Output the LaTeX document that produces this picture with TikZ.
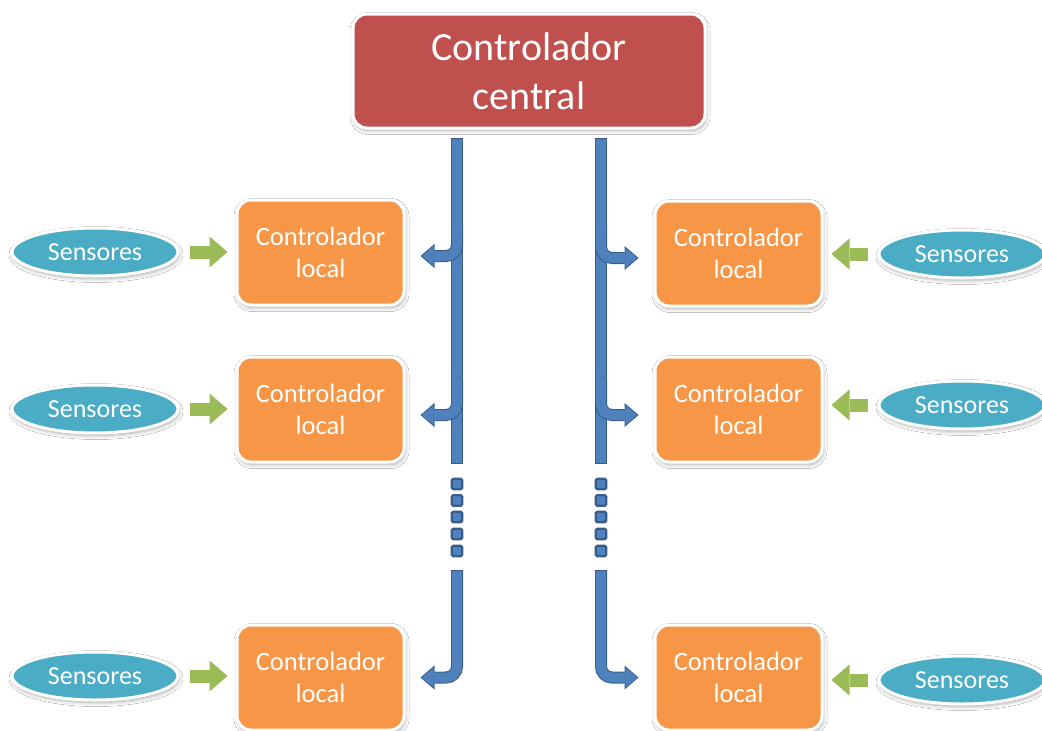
\documentclass[tikz,border=0pt]{standalone}
\usepackage{fontspec}
\setmainfont{Carlito}
\usetikzlibrary{arrows.meta,shapes.geometric,shadows.blur}

\definecolor{ctrlred}{HTML}{C0504D}
\definecolor{ctrlorange}{HTML}{F79646}
\definecolor{sensorblue}{HTML}{4BACC6}
\definecolor{busblue}{HTML}{4F81BD}
\definecolor{busedge}{HTML}{385D8A}
\definecolor{feedgreen}{HTML}{9BBB59}

\tikzset{
  softshadow/.style={blur shadow={shadow xshift=1pt, shadow yshift=-2.5pt,
      shadow blur radius=4pt, shadow opacity=35}},
  panel/.style={rounded corners=14pt, draw=white, line width=3pt, text=white,
      align=center, inner sep=0pt, softshadow},
  centralbox/.style={panel, fill=ctrlred, minimum width=352pt, minimum height=114pt,
      font=\fontsize{40}{49}\selectfont},
  localbox/.style={panel, fill=ctrlorange, minimum width=167pt, minimum height=105pt,
      font=\fontsize{26.5}{32}\selectfont},
  sensor/.style={ellipse, fill=sensorblue, draw=white, line width=3pt, text=white,
      minimum width=166pt, minimum height=48pt, inner sep=0pt, softshadow,
      font=\fontsize{26}{30}\selectfont},
  dotbox/.style={draw=busedge, fill=busblue, line width=2.2pt, rounded corners=1.5pt,
      minimum size=10.5pt, inner sep=0pt},
  % blue bus lines: a darker outline pass, then the fill pass
  busouter/.style={draw=busedge, line width=12pt},
  businner/.style={draw=busblue, line width=10pt},
  capped/.style={shorten <=-1pt},
  tipouter/.style={-{Triangle[length=14pt, width=24pt, line width=0pt]}},
  tipinner/.style={shorten >=1.5pt, -{Triangle[length=11.5pt, width=19.7pt, line width=0pt]}},
  % green sensor feeds: white outline pass, then the green pass
  feedouter/.style={draw=white, line width=17pt, shorten <=8pt, shorten >=5pt,
      -{Triangle[length=23pt, width=40pt, line width=0pt]}},
  feedinner/.style={draw=feedgreen, line width=13pt, shorten <=10pt, shorten >=8pt,
      -{Triangle[length=18pt, width=31pt, line width=0pt]}},
  elbow/.style={rounded corners=11pt},
}

\begin{document}
\begin{tikzpicture}[x=1pt, y=-1pt]
\useasboundingbox[fill=white] (0,0) rectangle (1042,731);

% controllers
\node[centralbox] (central) at (529,71) {Controlador\\central};

\node[localbox] (lcL1) at (320.5,252.5) {Controlador\\local};
\node[localbox] (lcL2) at (320.5,409.5) {Controlador\\local};
\node[localbox] (lcL3) at (320.5,677.5) {Controlador\\local};
\node[localbox] (lcR1) at (738.5,253.5) {Controlador\\local};
\node[localbox] (lcR2) at (738.5,409.5) {Controlador\\local};
\node[localbox] (lcR3) at (738.5,677.5) {Controlador\\local};

% sensors
\node[sensor] (sL1) at (95,252) {Sensores};
\node[sensor] (sL2) at (95,409) {Sensores};
\node[sensor] (sL3) at (95,676) {Sensores};
\node[sensor] (sR1) at (962,254) {Sensores};
\node[sensor] (sR2) at (962,405) {Sensores};
\node[sensor] (sR3) at (962,680) {Sensores};

% sensor inputs
\foreach \s/\c in {sL1/lcL1, sL2/lcL2, sL3/lcL3} {
  \draw[feedouter] (\s.east) -- (\s.east -| \c.west);
  \draw[feedinner] (\s.east) -- (\s.east -| \c.west);
}
\foreach \s/\c in {sR1/lcR1, sR2/lcR2, sR3/lcR3} {
  \draw[feedouter] (\s.west) -- (\s.west -| \c.east);
  \draw[feedinner] (\s.west) -- (\s.west -| \c.east);
}

% bus coordinates
\coordinate (busLtop) at ([xshift=-72pt, yshift=-9pt]central.south);
\coordinate (busRtop) at ([xshift=72pt, yshift=-9pt]central.south);
\coordinate (busLend) at (busLtop |- 0,463);
\coordinate (busRend) at (busRtop |- 0,463);
\coordinate (busLlow) at (busLtop |- 0,571);
\coordinate (busRlow) at (busRtop |- 0,571);
\coordinate (busLb1) at (busLtop |- 0,225);
\coordinate (busLb2) at (busLtop |- 0,380);
\coordinate (busRb1) at (busRtop |- 0,225);
\coordinate (busRb2) at (busRtop |- 0,380);

\coordinate (tipL1) at ([shift={(15pt,-3.5pt)}]lcL1.east);
\coordinate (tipL2) at ([shift={(15pt,-5.5pt)}]lcL2.east);
\coordinate (tipL3) at ([shift={(15pt,0pt)}]lcL3.east);
\coordinate (tipR1) at ([shift={(-15pt,-4.5pt)}]lcR1.west);
\coordinate (tipR2) at ([shift={(-15pt,-5.5pt)}]lcR2.west);
\coordinate (tipR3) at ([shift={(-15pt,0pt)}]lcR3.west);

% vertical buses
\foreach \a/\b in {busLtop/busLend, busRtop/busRend} {
  \draw[busouter, capped, shorten >=-1pt] (\a) -- (\b);
  \draw[businner] (\a) -- (\b);
}

% branches leaving the buses
\foreach \a/\t in {busLb1/tipL1, busLb2/tipL2, busRb1/tipR1, busRb2/tipR2} {
  \draw[busouter, tipouter, elbow] (\a) |- (\t);
  \draw[businner, tipinner, elbow] (\a) |- (\t);
}

% last branches, after the gap
\foreach \a/\t in {busLlow/tipL3, busRlow/tipR3} {
  \draw[busouter, capped, tipouter, elbow] (\a) |- (\t);
  \draw[businner, tipinner, elbow] (\a) |- (\t);
}

% continuation dots
\foreach \i/\y in {1/484, 2/500.5, 3/517, 4/534, 5/551} {
  \node[dotbox] (dotL\i) at (busLtop |- 0,\y) {};
  \node[dotbox] (dotR\i) at (busRtop |- 0,\y) {};
}
\end{tikzpicture}
\end{document}
